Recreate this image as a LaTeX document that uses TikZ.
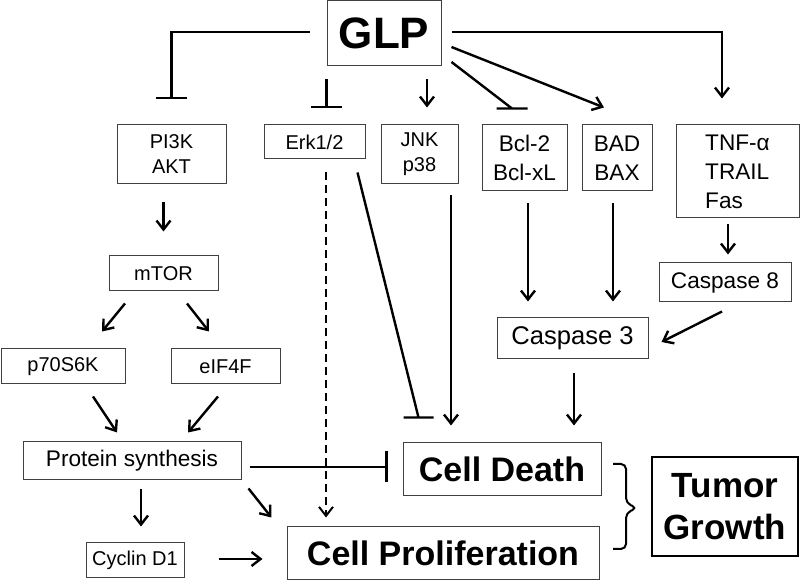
\documentclass[tikz,border=0pt]{standalone}
\usepackage{fontspec}
\setmainfont{Liberation Sans}
\usetikzlibrary{arrows.meta}

\begin{document}
\begin{tikzpicture}[x=0.5pt,y=-0.5pt,
  box/.style={draw=black!75,line width=0.5pt,inner sep=0pt,align=center,font=\fontsize{10}{12.5}\selectfont},
  mid/.style={font=\fontsize{11.3}{14.5}\selectfont},
  big/.style={font=\fontsize{17}{21}\selectfont\bfseries},
  act/.style={line width=1.2pt,-{Straight Barb[length=4.5pt,width=7pt]}},
  inh/.style={line width=1.2pt,-{Bar[width=15.5pt]}},
  flat/.style={line width=1.2pt}]
\useasboundingbox (0,0) rectangle (800,582);
%top row
\node[box,minimum width=57pt,minimum height=32.5pt,font=\fontsize{22}{26}\selectfont\bfseries] (glp) at (384,33.5) {GLP};
\node[box,minimum width=54.5pt,minimum height=29.5pt] (pik) at (171.5,154.5) {PI3K\\AKT};
\node[box,minimum width=50.5pt,minimum height=17pt] (erk) at (314.5,142) {Erk1/2};
\node[box,minimum width=38.5pt,minimum height=29.5pt] (jnk) at (419.5,154.5) {JNK\\p38};
\node[box,mid,minimum width=42.5pt,minimum height=33pt] (bcl) at (524.5,158) {Bcl-2\\Bcl-xL};
\node[box,mid,minimum width=35pt,minimum height=33pt] (bad) at (617,158) {BAD\\BAX};
\node[box,mid,align=left,minimum width=61.5pt,minimum height=46.5pt] (tnf) at (737.5,171.5) {TNF-α\\TRAIL\\Fas};
%left branch
\node[box,minimum width=54.5pt,minimum height=17.5pt] (mtor) at (163.5,273.5) {mTOR};
\node[box,minimum width=62pt,minimum height=17.5pt] (p70) at (63,366.5) {p70S6K};
\node[box,minimum width=54.5pt,minimum height=17.5pt] (eif) at (225.5,366.5) {eIF4F};
\node[box,mid,minimum width=109pt,minimum height=19pt] (prot) at (132,461) {Protein synthesis};
\node[box,minimum width=49pt,minimum height=17.5pt] (cyc) at (135,560.5) {Cyclin D1};
%right branch
\node[box,mid,minimum width=66pt,minimum height=19.5pt] (casp8) at (725,282.5) {Caspase 8};
\node[box,minimum width=75.5pt,minimum height=20.5pt,font=\fontsize{12.8}{15}\selectfont] (casp3) at (572.5,338.5) {Caspase 3};
%outcomes
\node[box,big,minimum width=99pt,minimum height=26.5pt] (death) at (502,469.5) {Cell Death};
\node[box,big,minimum width=156pt,minimum height=26.5pt] (prolif) at (443,553.5) {Cell Proliferation};
\node[box,draw=black,line width=1pt,minimum width=73pt,minimum height=49.5pt,font=\fontsize{17.5}{21}\selectfont\bfseries] (tumor) at (725,506.5) {Tumor\\Growth};
%from GLP
\draw[inh,shorten <=8.5pt,shorten >=12.5pt] ([yshift=0.75pt]glp.west) -| (pik.north);
\draw[inh,shorten <=6.5pt,shorten >=8pt] (glp.south west) -- (glp.south west |- erk.north);
\draw[act,shorten <=6.5pt,shorten >=8.5pt] ([xshift=21.5pt]glp.south) -- ([xshift=3.75pt]jnk.north);
\draw[flat] ([xshift=5pt,yshift=-14.25pt]glp.east) -- ([xshift=-6.25pt,yshift=8pt]bcl.north) ++(-7.75pt,0pt) -- ++(15.5pt,0pt);
\draw[act] ([xshift=5pt,yshift=-6.75pt]glp.east) -- ([xshift=-6.5pt,yshift=8.5pt]bad.north);
\draw[act,shorten <=5pt,shorten >=13pt] ([yshift=0.75pt]glp.east) -| ([xshift=-7.75pt]tnf.north);
%left side
\draw[act,shorten <=9pt,shorten >=12pt] (mtor.north |- pik.south) -- (mtor.north);
\draw[act] ([xshift=-19.25pt,yshift=-6pt]mtor.south) -- ([xshift=19.5pt,yshift=8.5pt]p70.north);
\draw[act] ([xshift=11.75pt,yshift=-6pt]mtor.south) -- ([xshift=-8.25pt,yshift=8.5pt]eif.north);
\draw[act] ([xshift=15pt,yshift=-6pt]p70.south) -- ([xshift=-7.5pt,yshift=4.5pt]prot.north);
\draw[act] ([xshift=-3.75pt,yshift=-6pt]eif.south) -- ([xshift=28pt,yshift=4.5pt]prot.north);
\draw[inh,shorten <=4pt,shorten >=7.5pt] ([yshift=-3pt]prot.east) -- ([yshift=-3pt]prot.east -| death.west);
\draw[act,shorten <=4.5pt,shorten >=8pt] ([xshift=4.5pt]prot.south) -- ([xshift=3pt]cyc.north);
\draw[act] ([xshift=3.5pt,yshift=-4pt]prot.south east) -- ([xshift=-7.5pt,yshift=4.5pt]prolif.north west);
\draw[act,shorten <=17pt,shorten >=12pt] ([yshift=0.75pt]cyc.east) -- ([yshift=0.75pt]cyc.east -| prolif.west);
%middle
\draw[act,line width=1pt,dash pattern=on 4pt off 2.5pt,shorten <=6.5pt,shorten >=4.5pt] ([xshift=5.75pt]erk.south) -- ([xshift=5.75pt]erk.south |- prolif.north);
\draw[flat] ([xshift=-4pt,yshift=-6.5pt]erk.south east) -- ([xshift=8pt,yshift=12.5pt]death.north west) ++(-7.5pt,0pt) -- ++(15pt,0pt);
\draw[act,shorten <=5.5pt,shorten >=8.5pt] ([xshift=15.75pt]jnk.south) -- ([xshift=15.75pt]jnk.south |- death.north);
%right side
\draw[act,shorten <=6pt,shorten >=8pt] ([xshift=1.75pt]bcl.south) -- ([xshift=1.75pt]bcl.south |- casp3.north);
\draw[act,shorten <=6pt,shorten >=8pt] ([xshift=-2pt]bad.south) -- ([xshift=-2pt]bad.south |- casp3.north);
\draw[act,shorten <=3pt,shorten >=4pt] ([xshift=-4.75pt]tnf.south) -- ([xshift=-4.75pt]tnf.south |- casp8.north);
\draw[act] ([xshift=-1.5pt,yshift=-4.5pt]casp8.south) -- ([xshift=6.5pt,yshift=-1.75pt]casp3.east);
\draw[act,shorten <=7pt,shorten >=8.5pt] ([xshift=0.75pt]casp3.south) -- ([xshift=0.75pt]casp3.south |- death.north);
%brace
\draw[line width=1pt,rounded corners=2.5pt] (613,464) -- (626,464) -- (626,503) -- (637,508) -- (626,513) -- (626,549) -- (613,549);
\end{tikzpicture}
\end{document}
